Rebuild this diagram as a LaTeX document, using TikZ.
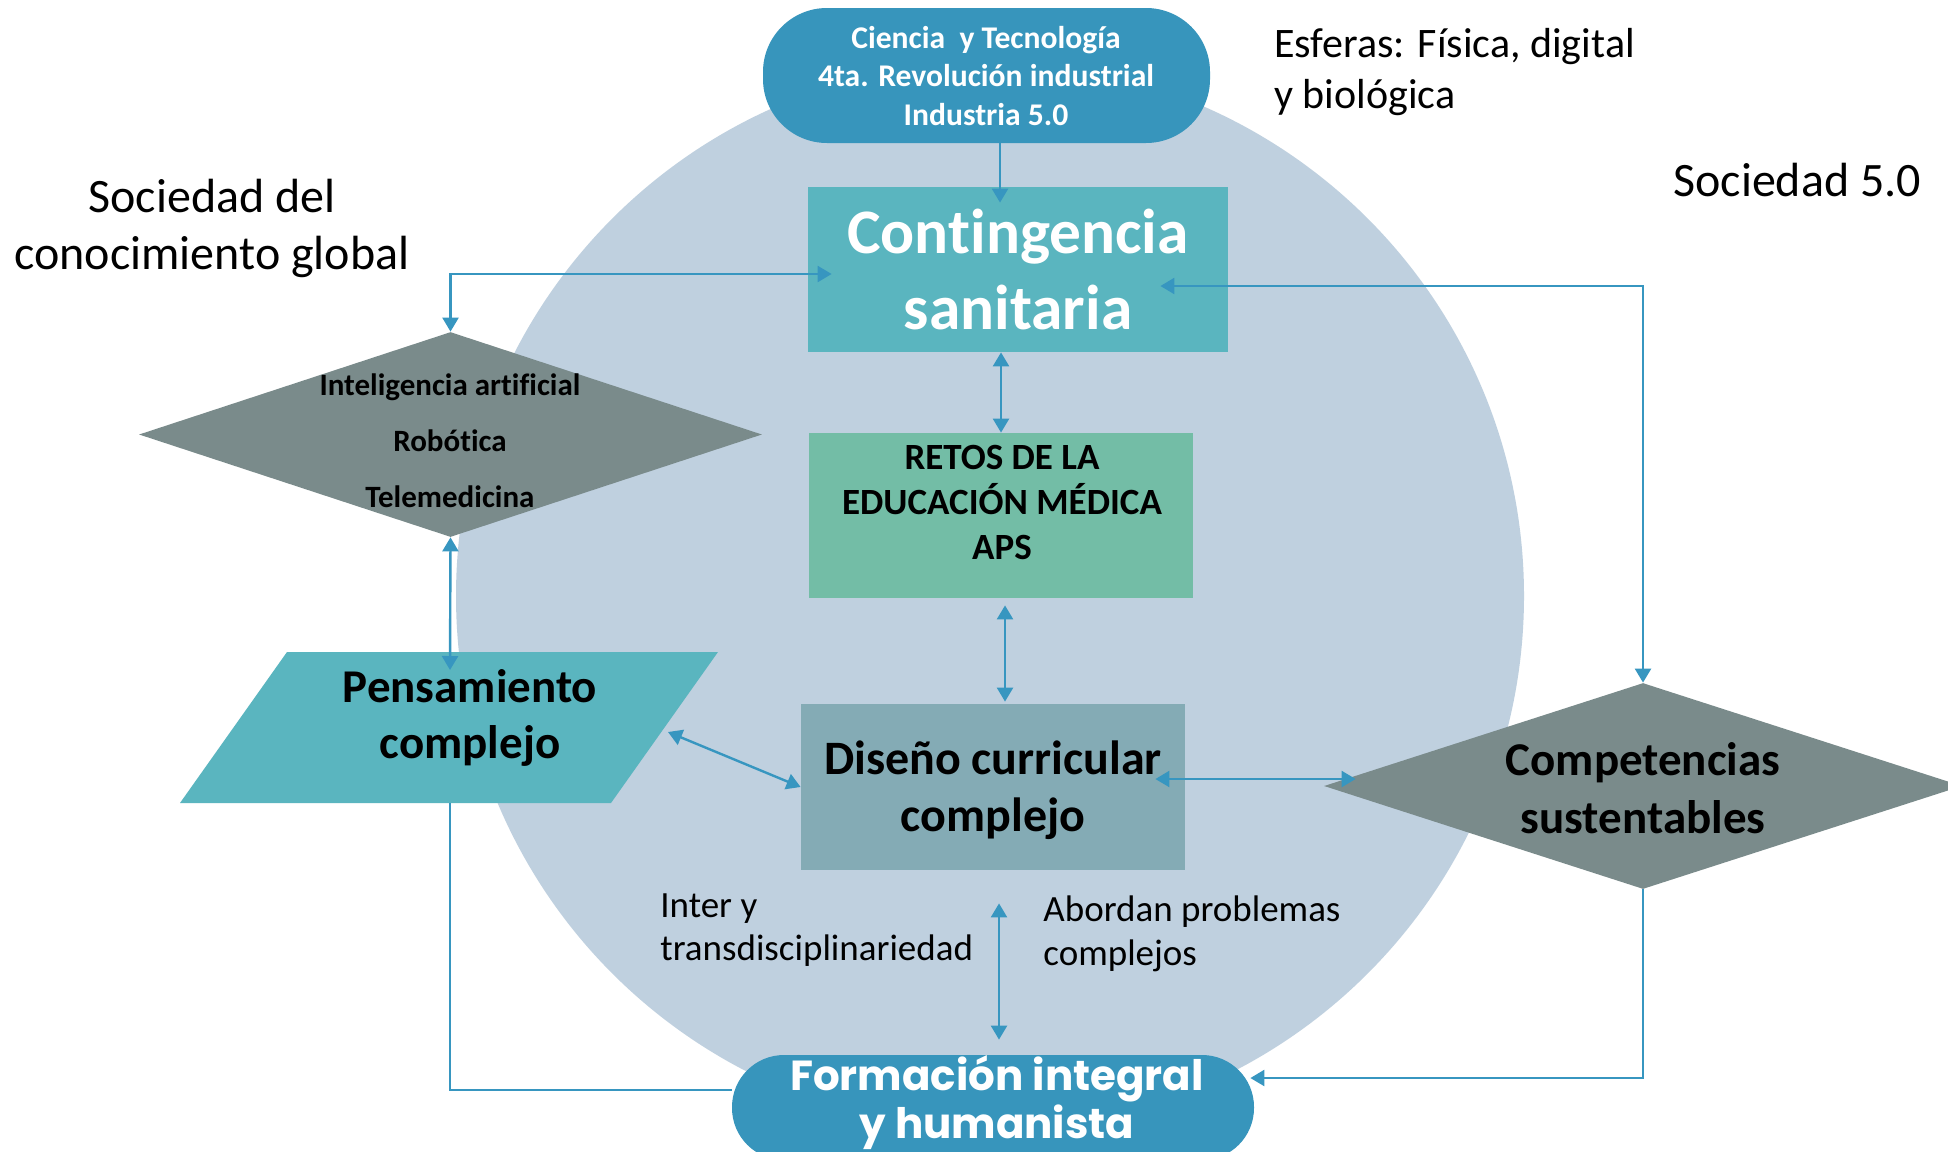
\documentclass[tikz,border=0pt]{standalone}
\usepackage{fontspec}
\setmainfont{Carlito}[Ligatures={NoCommon,NoContextual},RawFeature={-liga;-clig;-calt}]
\newfontfamily\popfont{Poppins}
\usetikzlibrary{shapes.geometric,arrows.meta,calc}
\definecolor{circc}{RGB}{191,208,223}
\definecolor{cytblue}{RGB}{55,149,188}
\definecolor{tealc}{RGB}{90,181,191}
\definecolor{greenc}{RGB}{115,189,166}
\definecolor{disc}{RGB}{132,171,181}
\definecolor{diac}{RGB}{122,139,139}
\definecolor{arrc}{RGB}{55,150,192}
\newcommand\mylines[2][c]{\begin{tabular}[t]{@{}#1@{}}#2\end{tabular}}
\begin{document}
\begin{tikzpicture}[x=0.5pt,y=-0.5pt,
  >={Triangle[length=7pt,width=8pt]},
  line/.style={draw=arrc,line width=1.2pt},
  conn/.style={line,->},
  conn2/.style={line,<->},
  boxs/.style={rectangle,inner sep=0,draw=none},
  dia/.style={diamond,inner sep=0,draw=none,fill=diac},
  txt/.style={inner sep=0,anchor=base},
  txtl/.style={inner sep=0,anchor=base west}]
\useasboundingbox (0,0) rectangle (1948,1151);
\clip (0,0) rectangle (1948,1151);
\fill[white] (0,0) rectangle (1948,1151);
% big circle
\fill[circc] (990,596) circle[radius=267pt];
% shapes
\node[boxs,fill=cytblue,rounded corners=32pt,minimum width=223.5pt,minimum height=67.5pt] (cyt) at (986.5,75.5) {};
\node[boxs,fill=tealc,minimum width=210pt,minimum height=82.5pt] (cont) at (1018,269.5) {};
\node[boxs,fill=greenc,minimum width=192pt,minimum height=82.5pt] (retos) at (1001,515.5) {};
\node[boxs,fill=disc,minimum width=192pt,minimum height=83pt] (dis) at (993,787) {};
\node[dia,minimum width=311.5pt,minimum height=102.5pt] (ia) at (450.5,434.5) {};
\node[dia,minimum width=319pt,minimum height=103pt] (comp) at (1643,786) {};
\node[boxs,fill=cytblue,rounded corners=26pt,minimum width=261pt,minimum height=52.5pt] (form) at (993,1107.5) {};
\fill[tealc] (287,652) -- (718,652) -- (611,803) -- (180,803) -- cycle;
\coordinate (penN) at (450,652);
\coordinate (penS) at (450,803);
\coordinate (penE) at (668,732);
% texts
\node[txt,text=white,font=\fontsize{15.8}{19.25}\selectfont\bfseries] (cyttxt) at (986,48)
  {\mylines{Ciencia\ \ y Tecnología\\4ta. Revolución industrial\\Industria 5.0}};
\node[txt,text=white,font=\fontsize{31.7}{38}\selectfont\bfseries] (conttxt) at (1018,253)
  {\mylines{Contingencia\\sanitaria}};
\node[txt,font=\fontsize{18.5}{22.5}\selectfont\bfseries] (retostxt) at (1002,469)
  {\mylines{RETOS DE LA\\EDUCACIÓN MÉDICA\\APS}};
\node[txt,font=\fontsize{15.5}{28}\selectfont\bfseries] (iatxt) at (450,395)
  {\mylines{Inteligencia artificial\\Robótica\\Telemedicina}};
\node[txt,font=\fontsize{23.5}{28}\selectfont\bfseries] (pentxt) at (470,702)
  {\mylines{Pensamiento\\complejo}};
\node[txt,font=\fontsize{24}{28.5}\selectfont\bfseries] (distxt) at (993,774)
  {\mylines{Diseño curricular\\complejo}};
\node[txt,font=\fontsize{23.5}{29}\selectfont\bfseries] (comptxt) at (1643,775)
  {\mylines{Competencias\\sustentables}};
\node[txt,text=white,font=\popfont\bfseries\fontsize{21}{24}\selectfont] (formtxt) at (997,1090)
  {\mylines{Formación integral\\y humanista}};
\node[txt,font=\fontsize{24}{28.5}\selectfont] (soc) at (212,212)
  {\mylines{Sociedad del\\conocimiento global}};
\node[txtl,font=\fontsize{21}{25.5}\selectfont] (esf) at (1274,57)
  {\mylines[l]{Esferas: Física, digital\\y biológica}};
\node[txtl,font=\fontsize{24}{28}\selectfont] (soc5) at (1673,196) {Sociedad 5.0};
\node[txtl,font=\fontsize{18.5}{21.5}\selectfont] (inter) at (660,917)
  {\mylines[l]{Inter y\\transdisciplinariedad}};
\node[txtl,font=\fontsize{18.5}{22}\selectfont] (abor) at (1043,921)
  {\mylines[l]{Abordan problemas\\complejos}};
% connectors
\draw[conn] ($(cyt.south)+(13.5,0)$) -- ($(cont.north)+(-18,16)$);
\draw[conn2] (ia.north) |- ($(cont.west)+(24,4.5)$);
\draw[conn2] ($(cont.east)+(-68,16.5)$) -| (comp.north);
\draw[conn2] (retos.north |- cont.south) -- (retos.north);
\draw[conn2] ($(retos.south)+(4,7)$) -- ($(dis.north)+(12,-2)$);
\draw[conn2] (ia.south) -- ($(penN)+(0,18)$);
\draw[conn2] (penE) -- (dis.west);
\draw[conn2] ($(dis.east)+(-30,-8)$) -- ($(comp.west)+(32,-7)$);
\draw[conn2] ($(dis.south)+(6,33)$) -- ($(form.north)+(6,-15)$);
\draw[line] (penS) |- ($(form.west)+(0,-17.5)$);
\draw[conn] (comp.south) |- ($(form.east)+(-4,-29.5)$);
\end{tikzpicture}
\end{document}
